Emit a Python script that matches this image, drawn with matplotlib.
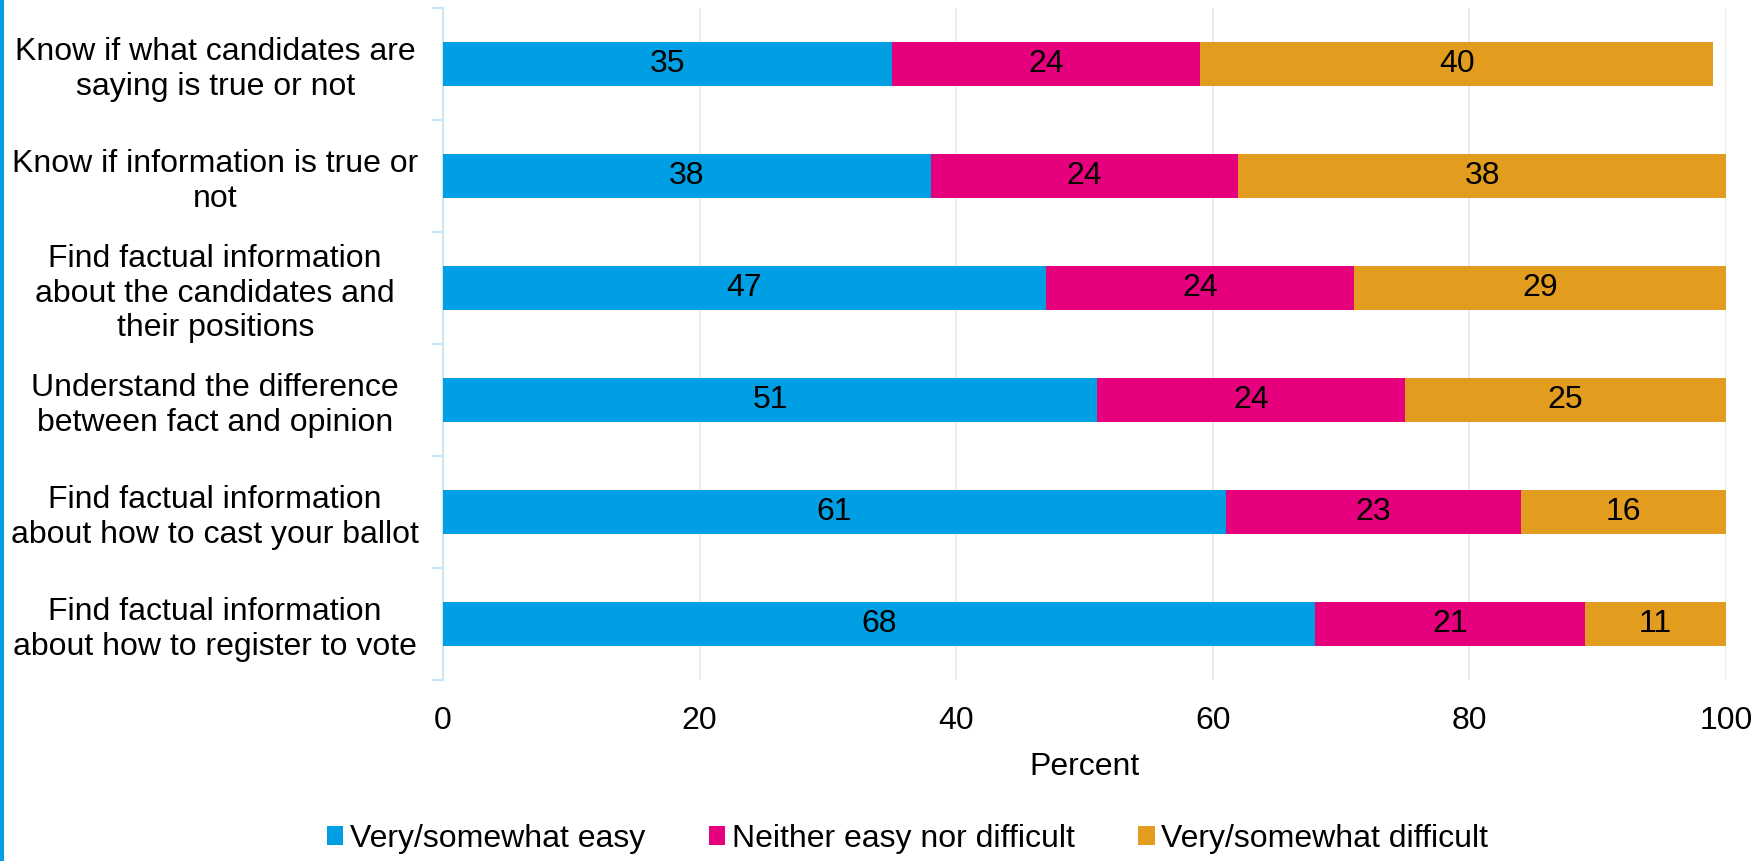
import matplotlib.pyplot as plt
import numpy as np
from matplotlib.lines import Line2D

categories = [
    'Know if what candidates are\nsaying is true or not',
    'Know if information is true or\nnot',
    'Find factual information\nabout the candidates and\ntheir positions',
    'Understand the difference\nbetween fact and opinion',
    'Find factual information\nabout how to cast your ballot',
    'Find factual information\nabout how to register to vote',
]
easy = [35, 38, 47, 51, 61, 68]
neither = [24, 24, 24, 24, 23, 21]
difficult = [40, 38, 29, 25, 16, 11]
series_names = ['Very/somewhat easy', 'Neither easy nor difficult', 'Very/somewhat difficult']
colors = ['#009FE3', '#E6007E', '#E29C1E']
xticks = [0, 20, 40, 60, 80, 100]

plt.rcParams['font.family'] = ['Liberation Sans', 'DejaVu Sans']
plt.rcParams['font.size'] = 23

fig = plt.figure(figsize=(17.52, 8.61), dpi=100)
ax = fig.add_axes([443 / 1752, 1 - 680 / 861, (1726 - 443) / 1752, (680 - 8) / 861])

y = np.arange(len(categories))
left = np.zeros(len(categories))
for vals, name, col in zip([easy, neither, difficult], series_names, colors):
    vals = np.array(vals)
    bars = ax.barh(y, vals, left=left, height=0.4, color=col, label=name, zorder=3)
    for b, v in zip(bars, vals):
        ax.text(b.get_x() + b.get_width() / 2, b.get_y() + b.get_height() / 2, str(v),
                ha='center', va='center', fontsize=23, color='black', zorder=4)
    left += vals

ax.set_xlim(0, 100)
ax.set_ylim(len(categories) - 0.5, -0.5)
ax.set_xticks(xticks)
ax.set_yticks(y)
ax.set_yticklabels(categories, ha='center', linespacing=1.2)
ax.tick_params(axis='y', length=0, pad=164)
ax.set_yticks(np.arange(-0.5, len(categories)), minor=True)
ax.tick_params(axis='y', which='minor', length=8, width=1.5, color='#C9E3F8')
ax.tick_params(axis='x', length=0, pad=19)
ax.xaxis.grid(True, color='#E9E9E9', linewidth=1.2, zorder=0)
for s in ['top', 'right', 'bottom']:
    ax.spines[s].set_visible(False)
ax.spines['left'].set_color('#C9E3F8')
ax.spines['left'].set_linewidth(1.5)
ax.set_xlabel('Percent', labelpad=11.5)

handles, labels = ax.get_legend_handles_labels()
fig.legend(handles, labels, loc='center', bbox_to_anchor=(0.518, 1 - 839 / 861), ncol=3,
           frameon=False, handlelength=0.52, handleheight=0.52, handletextpad=0.2,
           columnspacing=2.0, fontsize=23)

fig.add_artist(Line2D([0.001, 0.001], [0, 1], color='#009FE3', linewidth=3,
                      transform=fig.transFigure))

fig.savefig('out.png', dpi=100)
